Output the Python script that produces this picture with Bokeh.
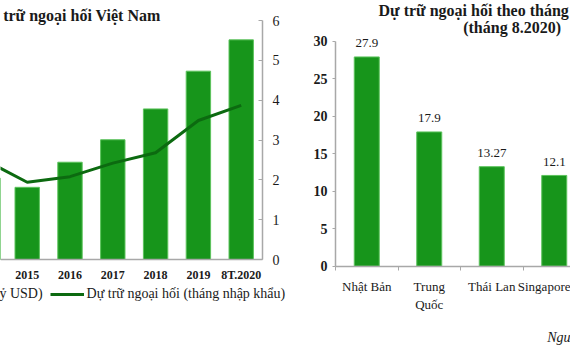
from bokeh.plotting import figure
from bokeh.models import (ColumnDataSource, Range1d, FixedTicker, Label, LabelSet,
                          Legend, LegendItem)
from bokeh.layouts import row
from bokeh.embed import file_html
from bokeh.resources import INLINE

# ---- data: left chart (Vietnam reserves) ----
years = ["2014", "2015", "2016", "2017", "2018", "2019", "8T.2020"]
reserves_usd = [34.0, 30.2, 40.7, 50.1, 63.0, 78.8, 91.9]        # tỷ USD
reserves_months = [2.5, 1.94, 2.08, 2.42, 2.68, 3.49, 3.87]      # tháng nhập khẩu
months_ticks = [0, 1, 2, 3, 4, 5, 6]

# ---- data: right chart (months of import, 8.2020) ----
countries = ["Nhật Bản", "Trung\nQuốc", "Thái Lan", "Singapore"]
months_cover = [27.9, 17.9, 13.27, 12.1]
value_labels = ["27.9", "17.9", "13.27", "12.1"]
cover_ticks = [0, 5, 10, 15, 20, 25, 30]

GREEN = "#17951b"
EDGE = "#5cc35c"
DARK = "#0c6a10"
AXIS = "#a8a8a8"
TXT = "#1a1a1a"
SERIF = "Liberation Serif"

W1, H = 290, 350
W2 = 280

# ================= left chart =================
# frame covers the whole figure; axes are pinned with fixed_location
x_idx = list(range(len(years)))
src1 = ColumnDataSource(dict(x=x_idx, usd=reserves_usd, months=reserves_months))

px_per_cat = 42.8
x0 = 1 - 26.7 / px_per_cat
x1 = x0 + W1 / px_per_cat
px_per_m = (259 - 20) / 6.0
y0 = -(H - 259) / px_per_m
y1 = 6 + 20 / px_per_m
usd_max = 100.0

p1 = figure(width=W1, height=H, output_backend="svg", toolbar_location=None,
            x_range=Range1d(x0, x1), y_range=Range1d(y0, y1),
            y_axis_location="right", min_border=0)
p1.extra_y_ranges = {"usd": Range1d(y0 * usd_max / 6, y1 * usd_max / 6)}
bars1 = p1.vbar(x="x", top="usd", bottom=0, width=0.57, y_range_name="usd", source=src1,
                fill_color=GREEN, line_color=EDGE, line_width=1)
line1 = p1.line(x="x", y="months", source=src1, line_color=DARK, line_width=3)

p1.grid.visible = False
p1.outline_line_color = None
p1.background_fill_color = "white"
p1.border_fill_color = "white"

xa = p1.xaxis[0]
xa.fixed_location = 0
xa.bounds = (x0, 6.5)
xa.ticker = FixedTicker(ticks=x_idx, minor_ticks=[])
xa.major_label_overrides = {i: y for i, y in zip(x_idx, years)}
xa.major_tick_out = 0
xa.major_tick_in = 0
xa.minor_tick_line_color = None
xa.axis_line_color = AXIS
xa.axis_line_width = 1.5
xa.major_label_standoff = 8
xa.major_label_text_font = SERIF
xa.major_label_text_font_size = "12px"
xa.major_label_text_font_style = "bold"
xa.major_label_text_color = TXT

ya = p1.yaxis[0]
ya.fixed_location = 6.5
ya.bounds = (0, 6)
ya.ticker = FixedTicker(ticks=months_ticks, minor_ticks=[])
ya.major_tick_in = 4
ya.major_tick_out = 0
ya.major_tick_line_color = AXIS
ya.minor_tick_line_color = None
ya.axis_line_color = AXIS
ya.axis_line_width = 1.5
ya.major_label_standoff = 10
ya.major_label_text_font = SERIF
ya.major_label_text_font_size = "14px"
ya.major_label_text_color = TXT

p1.add_layout(Label(x=-22.5, y=H - 15, x_units="screen", y_units="screen",
                    text="Dự trữ ngoại hối Việt Nam", text_font=SERIF,
                    text_font_size="16px", text_font_style="bold", text_color=TXT,
                    text_baseline="middle", text_align="left"))

legend = Legend(items=[LegendItem(label="Dự trữ ngoại hối (tỷ USD)", renderers=[bars1]),
                       LegendItem(label="Dự trữ ngoại hối (tháng nhập khẩu)", renderers=[line1])],
                orientation="horizontal", location=(-143, 47.6), padding=0, margin=0,
                spacing=7, label_standoff=3, glyph_width=34, glyph_height=10,
                background_fill_alpha=0, border_line_alpha=0,
                label_text_font=SERIF, label_text_font_size="14px", label_text_color=TXT)
p1.add_layout(legend, "center")

# ================= right chart =================
xc = [i + 0.5 for i in range(len(countries))]
src2 = ColumnDataSource(dict(x=xc, v=months_cover, lab=value_labels))

px_per_c = 62.5
cx0 = -45 / px_per_c
cx1 = cx0 + W2 / px_per_c
px_per_v = (265.7 - 40.7) / 30.0
cy0 = -(H - 265.7) / px_per_v
cy1 = 30 + 40.7 / px_per_v

p2 = figure(width=W2, height=H, output_backend="svg", toolbar_location=None,
            x_range=Range1d(cx0, cx1), y_range=Range1d(cy0, cy1), min_border=0)
p2.vbar(x="x", top="v", bottom=0, width=0.4, source=src2,
        fill_color=GREEN, line_color=EDGE, line_width=1)
p2.add_layout(LabelSet(x="x", y="v", text="lab", source=src2, y_offset=13.5,
                       text_align="center", text_baseline="middle",
                       text_font=SERIF, text_font_size="13px", text_color=TXT))

p2.grid.visible = False
p2.outline_line_color = None
p2.background_fill_color = "white"
p2.border_fill_color = "white"

xb = p2.xaxis[0]
xb.fixed_location = 0
xb.bounds = (0, cx1)
xb.ticker = FixedTicker(ticks=xc, minor_ticks=[0, 1, 2, 3, 4])
xb.major_label_overrides = {x: c for x, c in zip(xc, countries)}
xb.major_tick_out = 0
xb.major_tick_in = 0
xb.minor_tick_out = 4
xb.minor_tick_in = 0
xb.minor_tick_line_color = AXIS
xb.axis_line_color = AXIS
xb.axis_line_width = 1.5
xb.major_label_standoff = 9
xb.major_label_text_font = SERIF
xb.major_label_text_font_size = "13px"
xb.major_label_text_color = TXT

yb = p2.yaxis[0]
yb.fixed_location = 0
yb.bounds = (0, 30)
yb.ticker = FixedTicker(ticks=cover_ticks, minor_ticks=[])
yb.major_tick_out = 3
yb.major_tick_in = 0
yb.major_tick_line_color = AXIS
yb.minor_tick_line_color = None
yb.axis_line_color = AXIS
yb.axis_line_width = 1.5
yb.major_label_standoff = 5
yb.major_label_text_font = SERIF
yb.major_label_text_font_size = "14px"
yb.major_label_text_font_style = "bold"
yb.major_label_text_color = TXT

p2.add_layout(Label(x=88, y=H - 10, x_units="screen", y_units="screen",
                    text="Dự trữ ngoại hối theo tháng", text_font=SERIF,
                    text_font_size="16px", text_font_style="bold", text_color=TXT,
                    text_baseline="middle", text_align="left"))
p2.add_layout(Label(x=172.7, y=H - 27, x_units="screen", y_units="screen",
                    text="(tháng 8.2020)", text_font=SERIF,
                    text_font_size="16px", text_font_style="bold", text_color=TXT,
                    text_baseline="middle", text_align="left"))
p2.add_layout(Label(x=256.7, y=H - 336.7, x_units="screen", y_units="screen",
                    text="Nguồn: NHNN", text_font=SERIF,
                    text_font_size="14px", text_font_style="italic", text_color=TXT,
                    text_baseline="middle", text_align="left"))

layout = row(p1, p2, spacing=0)
open("out.html", "w").write(file_html(layout, INLINE))
